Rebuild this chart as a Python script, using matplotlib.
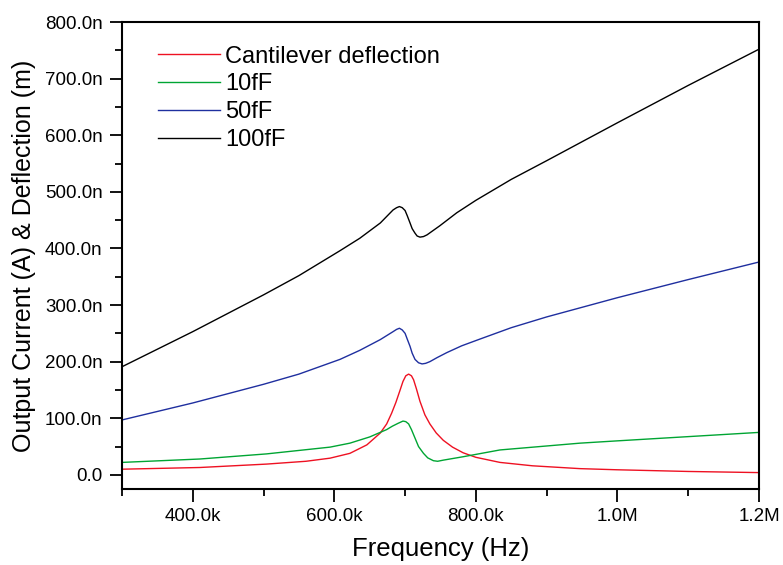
import matplotlib
matplotlib.use("Agg")
import matplotlib.pyplot as plt
from matplotlib.ticker import MultipleLocator, FuncFormatter

plt.rcParams["font.family"] = ["Liberation Sans", "DejaVu Sans"]

# values (frequency in kHz, amplitude in nA / nm)
f_defl = [300, 410, 504, 560, 594, 622, 646, 665, 674, 681, 687, 693, 697, 701,
          705, 709, 712, 716, 721, 728, 735, 744, 754, 767, 782, 800, 834, 880,
          947, 999, 1100, 1200]
defl = [10, 13, 19, 24, 29.5, 38, 53, 74, 90, 109, 128, 150, 165, 175,
        178, 175, 168, 152, 130, 106, 90, 74, 61, 49, 39, 31, 22, 16,
        11, 9, 6, 4]

f_10 = [300, 410, 504, 594, 622, 650, 674, 682, 690, 697, 701, 705, 709, 714,
        719, 726, 732, 740, 746, 754, 782, 834, 947, 999, 1200]
i_10 = [22, 28, 37, 49, 56, 67, 80, 86, 91, 95, 94, 90, 80, 65,
        50, 38, 30, 25, 24, 26, 32, 44, 56, 60, 75]

f_50 = [300, 400, 500, 550, 608, 636, 665, 683, 688, 692, 696, 700, 703, 707,
        710, 714, 719, 724, 729, 735, 745, 759, 780, 806, 850, 900, 1000, 1100, 1200]
i_50 = [97, 127, 160, 178, 204, 220, 239, 253, 257, 259, 256, 250, 240, 227,
        215, 204, 198, 196, 197, 200, 207, 216, 228, 240, 260, 279, 313, 345, 376]

f_100 = [300, 400, 500, 550, 608, 636, 665, 683, 688, 692, 696, 700, 703, 707,
         710, 714, 717, 721, 726, 731, 740, 749, 773, 800, 850, 900, 1000, 1100, 1200]
i_100 = [191, 253, 318, 352, 396, 418, 445, 468, 472, 474, 472, 467, 458, 445,
         435, 427, 422, 420, 421, 424, 432, 440, 463, 485, 522, 555, 622, 688, 752]


def scale(xs, k):
    return [v * k for v in xs]


fig = plt.figure(figsize=(7.83, 5.65), dpi=100)
ax = fig.add_axes([0.1558, 0.1345, 0.8135, 0.8265])

ax.plot(scale(f_defl, 1e3), scale(defl, 1e-9), color="#ee1122", lw=1.0, label="Cantilever deflection")
ax.plot(scale(f_10, 1e3), scale(i_10, 1e-9), color="#00a533", lw=1.0, label="10fF")
ax.plot(scale(f_50, 1e3), scale(i_50, 1e-9), color="#1f2f9f", lw=1.0, label="50fF")
ax.plot(scale(f_100, 1e3), scale(i_100, 1e-9), color="black", lw=1.0, label="100fF")

ax.set_xlim(300e3, 1.2e6)
ax.set_ylim(-25e-9, 800e-9)

ax.xaxis.set_major_locator(MultipleLocator(200e3))
ax.xaxis.set_minor_locator(MultipleLocator(100e3))
ax.yaxis.set_major_locator(MultipleLocator(100e-9))
ax.yaxis.set_minor_locator(MultipleLocator(50e-9))


def xfmt(v, pos):
    if v >= 1e6 - 1:
        return "%.1fM" % (v / 1e6)
    return "%.1fk" % (v / 1e3)


def yfmt(v, pos):
    if abs(v) < 1e-12:
        return "0.0"
    return "%.1fn" % (v / 1e-9)


ax.xaxis.set_major_formatter(FuncFormatter(xfmt))
ax.yaxis.set_major_formatter(FuncFormatter(yfmt))

ax.tick_params(which="major", direction="out", length=9, width=1.3, labelsize=13.5, pad=5)
ax.tick_params(which="minor", direction="out", length=5, width=1.3)
ax.tick_params(top=False, right=False)
for s in ax.spines.values():
    s.set_linewidth(1.5)

ax.set_xlabel("Frequency (Hz)", fontsize=18.5, labelpad=8)
ax.set_ylabel("Output Current (A) & Deflection (m)", fontsize=18, labelpad=6)

ax.legend(loc="upper left", frameon=False, fontsize=17, handlelength=2.65,
          handletextpad=0.2, labelspacing=0.25, borderaxespad=0.3,
          bbox_to_anchor=(0.03, 0.985))

fig.savefig("out.png", dpi=100)
